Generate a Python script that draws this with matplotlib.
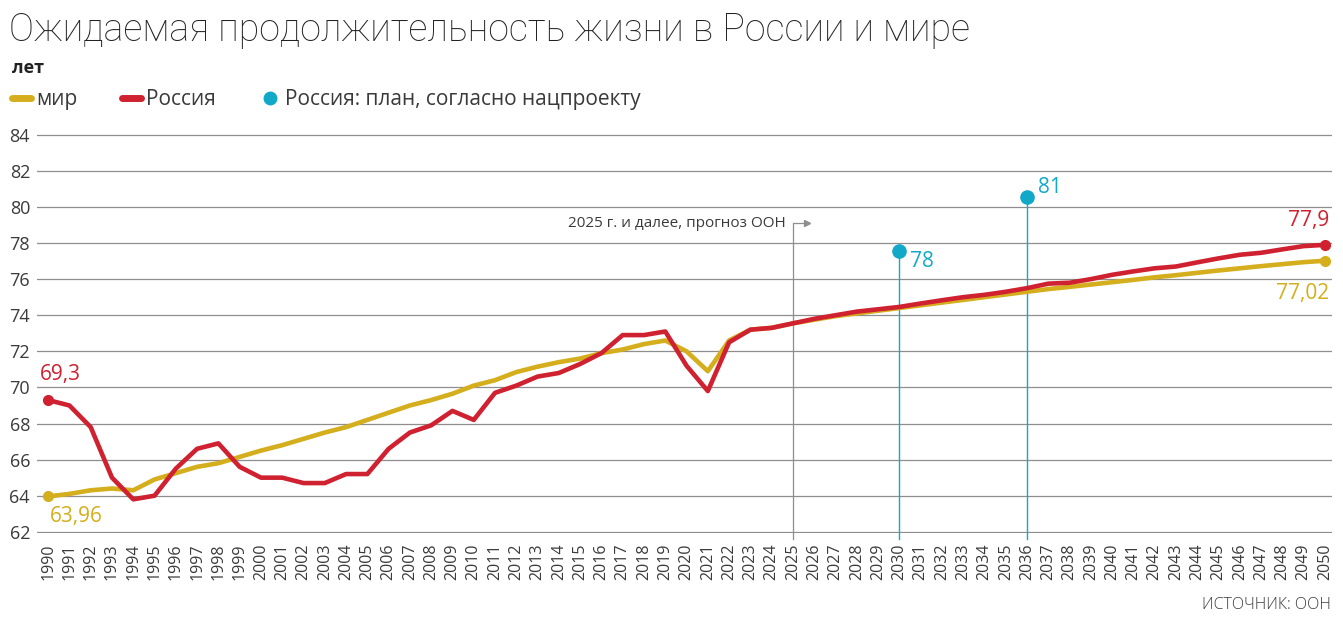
import numpy as np
import matplotlib.pyplot as plt
from matplotlib.lines import Line2D

plt.rcParams['font.family'] = ['Open Sans', 'DejaVu Sans']

years = list(range(1990, 2051))

world = [63.96, 64.1, 64.3, 64.4, 64.3, 64.9, 65.25, 65.6, 65.8, 66.15,
         66.5, 66.8, 67.15, 67.5, 67.8, 68.2, 68.6, 69.0, 69.3, 69.65,
         70.1, 70.4, 70.85, 71.15, 71.4, 71.6, 71.9, 72.1, 72.4, 72.6,
         72.0, 70.9, 72.6, 73.2, 73.3, 73.55, 73.75, 73.95, 74.1, 74.25,
         74.4, 74.55, 74.7, 74.85, 75.0, 75.15, 75.3, 75.45, 75.57, 75.7,
         75.83, 75.96, 76.1, 76.22, 76.35, 76.48, 76.6, 76.72, 76.83, 76.94,
         77.02]

russia = [69.3, 69.0, 67.8, 65.0, 63.8, 64.0, 65.5, 66.6, 66.9, 65.6,
          65.0, 65.0, 64.7, 64.7, 65.2, 65.2, 66.6, 67.5, 67.9, 68.7,
          68.2, 69.7, 70.1, 70.6, 70.8, 71.3, 71.9, 72.9, 72.9, 73.1,
          71.2, 69.8, 72.5, 73.2, 73.3, 73.55, 73.8, 74.0, 74.2, 74.33,
          74.46, 74.65, 74.83, 75.0, 75.13, 75.3, 75.5, 75.75, 75.8, 76.0,
          76.24, 76.43, 76.6, 76.7, 76.93, 77.15, 77.35, 77.46, 77.65, 77.83,
          77.9]

plan_years = [2030, 2036]
plan_vals = [77.55, 80.55]
plan_labels = ['78', '81']

c_world = '#d4ae1c'
c_rus = '#cf2130'
c_plan = '#12a9c9'
c_grid = '#8e8e8e'
c_text = '#3a3a3a'

fig = plt.figure(figsize=(13.43, 6.24), dpi=100)
ax = fig.add_axes([0.0276, 0.1466, 0.9642, 0.6386])

ax.set_xlim(1989.48, 2050.33)
ax.set_ylim(61.96, 84.04)
ax.set_yticks(range(62, 85, 2))
ax.set_xticks(years)
ax.set_xticklabels([str(y) for y in years], rotation=90, fontsize=11.5, color=c_text)
ax.tick_params(axis='y', length=0, pad=5, labelsize=13, labelcolor=c_text)
ax.tick_params(axis='x', length=0, pad=8)
for s in ax.spines.values():
    s.set_visible(False)
ax.grid(axis='y', color=c_grid, lw=0.9)
ax.set_axisbelow(True)

# прогноз ООН
ax.plot([2025, 2025, 2025.6], [61.6, 79.11, 79.11], color=c_grid, lw=0.9, clip_on=False)
ax.plot([2025.68], [79.11], marker='>', color=c_grid, ms=5, clip_on=False)
ax.text(2024.66, 79.11, '2025 г. и далее, прогноз ООН', ha='right', va='center',
        fontsize=11, color=c_text)

# план
for yr, v, lab in zip(plan_years, plan_vals, plan_labels):
    ax.plot([yr, yr], [61.6, v], color=c_plan, lw=1.0, clip_on=False)
    ax.plot([yr], [v], 'o', color=c_plan, ms=9.5, clip_on=False)
    ax.text(yr + 0.5, v - 0.55 if lab == '78' else v + 0.55, lab, ha='left', va='center',
            fontsize=15, color=c_plan)

ax.plot(years, world, color=c_world, lw=3.3, solid_capstyle='round', solid_joinstyle='round')
ax.plot(years, russia, color=c_rus, lw=3.3, solid_capstyle='round', solid_joinstyle='round')
ax.plot([years[0], years[-1]], [world[0], world[-1]], 'o', color=c_world, ms=7, clip_on=False)
ax.plot([years[0], years[-1]], [russia[0], russia[-1]], 'o', color=c_rus, ms=7, clip_on=False)

ax.text(1989.62, 70.7, '69,3', ha='left', va='center', fontsize=15, color=c_rus)
ax.text(1990.1, 62.85, '63,96', ha='left', va='center', fontsize=15, color=c_world)
ax.text(2050.2, 79.26, '77,9', ha='right', va='center', fontsize=15, color=c_rus)
ax.text(2050.2, 75.2, '77,02', ha='right', va='center', fontsize=15, color=c_world)

fig.text(0.007, 0.952, 'Ожидаемая продолжительность жизни в России и мире',
         fontsize=27, fontweight='light', family=['Roboto', 'DejaVu Sans'],
         color='#222222', va='center', ha='left')
fig.text(0.009, 0.891, 'лет', fontsize=13, fontweight='bold', color='#222222',
         va='center', ha='left')

handles = [Line2D([], [], color=c_world, lw=5, solid_capstyle='round'),
           Line2D([], [], color=c_rus, lw=5, solid_capstyle='round'),
           Line2D([], [], color=c_plan, lw=0, marker='o', ms=9)]
fig.legend(handles, ['мир', 'Россия', 'Россия: план, согласно нацпроекту'],
           loc='center left', bbox_to_anchor=(0.009, 0.84), ncol=3, frameon=False,
           fontsize=15, handlelength=0.9, handletextpad=0.25, columnspacing=2.15,
           borderpad=0, borderaxespad=0, labelcolor=c_text)

fig.text(0.991, 0.03, 'ИСТОЧНИК: ООН', ha='right', va='center', fontsize=11.5,
         color=c_text, fontweight='light')

fig.savefig('out.png', dpi=100)
